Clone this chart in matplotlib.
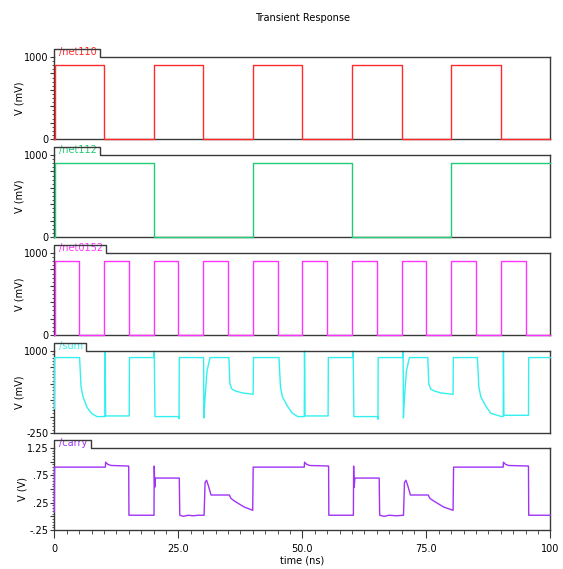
import matplotlib.pyplot as plt
from matplotlib.ticker import FixedLocator, FixedFormatter, MultipleLocator
from matplotlib.lines import Line2D

# x axis (ns)
t_ticks = [0, 25, 50, 75, 100]
t_tick_labels = ['0', '25.0', '50.0', '75.0', '100']

# digital inputs (mV), drawn as steps
net110_t = [0, 0.05, 10, 20, 30, 40, 50, 60, 70, 80, 90, 100]
net110_v = [0, 900, 0, 900, 0, 900, 0, 900, 0, 900, 0, 0]

net112_t = [0, 0.05, 20, 40, 60, 80, 100]
net112_v = [0, 900, 0, 900, 0, 900, 900]

net0152_t = [0, 0.05, 5, 10, 15, 20, 25, 30, 35, 40, 45, 50, 55, 60, 65, 70, 75, 80, 85, 90, 95, 100]
net0152_v = [0, 900, 0, 900, 0, 900, 0, 900, 0, 900, 0, 900, 0, 900, 0, 900, 0, 900, 0, 900, 0, 0]

# sum output (mV)
sum_t = [0, 0.05, 5.1, 5.4, 5.8, 6.6, 7.5, 8.6, 10.2, 10.25, 10.35, 15.1, 15.15,
         20.1, 20.15, 20.3, 25.1, 25.15, 25.2, 30.1, 30.15, 30.4, 30.8, 31.4,
         35.2, 35.4, 35.8, 36.5, 38.0, 40.1, 40.15, 45.3, 45.6, 46.0, 47.0, 48.0, 49.1,
         50.4, 50.45, 50.55, 55.2, 55.25, 60.2, 60.25, 60.4, 65.2, 65.25, 65.3,
         70.3, 70.32, 70.38, 70.6, 71.0, 71.6, 75.3, 75.5, 75.9, 76.6, 78.0, 80.4, 80.45,
         85.3, 85.6, 86.0, 87.0, 88.0, 90.2, 90.5, 90.55, 90.65, 95.6, 95.65, 100]
sum_v = [120, 900, 900, 450, 300, 140, 50, 0, 0, 980, 10, 10, 900,
         900, 1000, 0, 0, -30, 900, 900, -20, 300, 700, 900,
         900, 500, 420, 390, 360, 340, 900, 900, 450, 300, 160, 50, 0,
         0, 1000, 10, 10, 900, 900, 1000, 0, 0, -40, 900,
         900, 1000, -20, 300, 700, 900, 900, 500, 420, 390, 360, 340, 900,
         900, 450, 300, 160, 50, 0, 0, 1000, 20, 20, 900, 900]

# carry output (V)
carry_t = [0, 0.05, 10.3, 10.35, 10.8, 11.5, 15.0, 15.05, 20.1, 20.15, 20.25, 20.4,
           25.2, 25.3, 26.0, 27.0, 28.0, 29.0, 30.2, 30.4, 30.7, 31.1, 31.6,
           35.3, 35.6, 36.3, 38.3, 40.0, 40.1, 50.4, 50.45, 50.9, 51.5, 55.3, 55.35,
           60.3, 60.35, 60.45, 60.6, 65.5, 65.6, 66.5, 67.5, 69.0, 70.4, 70.6, 70.9,
           71.3, 71.8, 75.4, 75.7, 76.5, 78.5, 80.4, 80.5, 90.5, 90.55, 91.0, 91.6,
           95.6, 95.65, 100]
carry_v = [0.08, 0.90, 0.90, 0.99, 0.95, 0.93, 0.92, 0.02, 0.02, 0.92, 0.53, 0.70,
           0.70, 0.02, 0.00, 0.02, 0.01, 0.02, 0.02, 0.62, 0.66, 0.55, 0.39,
           0.39, 0.33, 0.28, 0.17, 0.11, 0.90, 0.90, 0.99, 0.95, 0.93, 0.92, 0.02,
           0.02, 0.92, 0.53, 0.70, 0.70, 0.02, 0.00, 0.02, 0.01, 0.02, 0.62, 0.66,
           0.55, 0.39, 0.39, 0.33, 0.28, 0.17, 0.11, 0.90, 0.90, 0.99, 0.95, 0.93,
           0.92, 0.02, 0.02]

mv_ticks = [0, 200, 400, 600, 800, 1000]
mv_labels = ['0', '', '', '', '', '1000']
sum_ticks = [-250, 0, 250, 500, 750, 1000]
sum_labels = ['-250', '', '', '', '', '1000']
carry_ticks = [-0.25, 0, 0.25, 0.5, 0.75, 1.0, 1.25]
carry_labels = ['-.25', '', '.25', '', '.75', '', '1.25']

panels = [
    ('/net110', net110_t, net110_v, '#ff2a2a', (0, 1000), mv_ticks, mv_labels, 50, 'V (mV)', True),
    ('/net112', net112_t, net112_v, '#22cc77', (0, 1000), mv_ticks, mv_labels, 50, 'V (mV)', True),
    ('/net0152', net0152_t, net0152_v, '#ff33ff', (0, 1000), mv_ticks, mv_labels, 50, 'V (mV)', True),
    ('/sum', sum_t, sum_v, '#33f0f0', (-250, 1000), sum_ticks, sum_labels, 50, 'V (mV)', False),
    ('/carry', carry_t, carry_v, '#a033f5', (-0.25, 1.25), carry_ticks, carry_labels, 0.05, 'V (V)', False),
]

W, H = 563, 569
fig = plt.figure(figsize=(W / 100, H / 100), dpi=100)
left_px, right_px = 54.3, 550.3
tops_px = [57, 155, 253, 351, 448]
h_px = 82
tab_h_px = 8
edge = '#3a3a3a'
fs = 7

axes = []
for i, (name, t, v, col, ylim, yt, yl, ystep, ylab, steps) in enumerate(panels):
    ax = fig.add_axes([left_px / W, 1 - (tops_px[i] + h_px) / H,
                       (right_px - left_px) / W, h_px / H])
    ax.plot(t, v, color=col, lw=1.0, clip_on=False, zorder=3,
            drawstyle='steps-post' if steps else 'default')
    ax.set_xlim(0, 100)
    ax.set_ylim(*ylim)
    ax.yaxis.set_major_locator(FixedLocator(yt))
    ax.yaxis.set_major_formatter(FixedFormatter(yl))
    ax.yaxis.set_minor_locator(MultipleLocator(ystep))
    ax.tick_params(axis='y', which='major', direction='out', length=3, width=0.8,
                   labelsize=fs, pad=1, color=edge)
    ax.tick_params(axis='y', which='minor', direction='out', length=1.5, width=0.6, color=edge)
    ax.set_ylabel(ylab, fontsize=fs, labelpad=0)
    for s in ['left', 'right', 'bottom']:
        ax.spines[s].set_color(edge)
        ax.spines[s].set_linewidth(1.0)
    ax.spines['top'].set_visible(False)
    if i < len(panels) - 1:
        ax.tick_params(axis='x', which='both', bottom=False, labelbottom=False)
    else:
        ax.set_xticks(t_ticks)
        ax.set_xticklabels(t_tick_labels)
        ax.xaxis.set_minor_locator(MultipleLocator(2.5))
        ax.tick_params(axis='x', which='major', direction='out', length=6, width=0.8,
                       labelsize=fs, pad=4, color=edge)
        ax.tick_params(axis='x', which='minor', direction='out', length=3, width=0.6, color=edge)
        ax.set_xlabel('time (ns)', fontsize=fs, labelpad=1)
    txt = ax.text(0.01, 1.0, name, transform=ax.transAxes, color=col, fontsize=fs,
                  ha='left', va='bottom')
    axes.append((ax, txt))

fig.text((left_px + right_px) / 2 / W, 1 - 18 / H, 'Transient Response',
         fontsize=fs, ha='center', va='center')

# label tabs on top edge of each panel
fig.canvas.draw()
r = fig.canvas.get_renderer()
for ax, txt in axes:
    bb = txt.get_window_extent(r)
    ab = ax.get_window_extent(r)
    w = (bb.x1 - ab.x0 + 3) / ab.width
    th = tab_h_px / h_px
    ax.add_line(Line2D([0, 0, w, w, 1], [1, 1 + th, 1 + th, 1, 1], transform=ax.transAxes,
                       color=edge, lw=1.0, clip_on=False, zorder=4))

fig.savefig('out.png', dpi=100)
